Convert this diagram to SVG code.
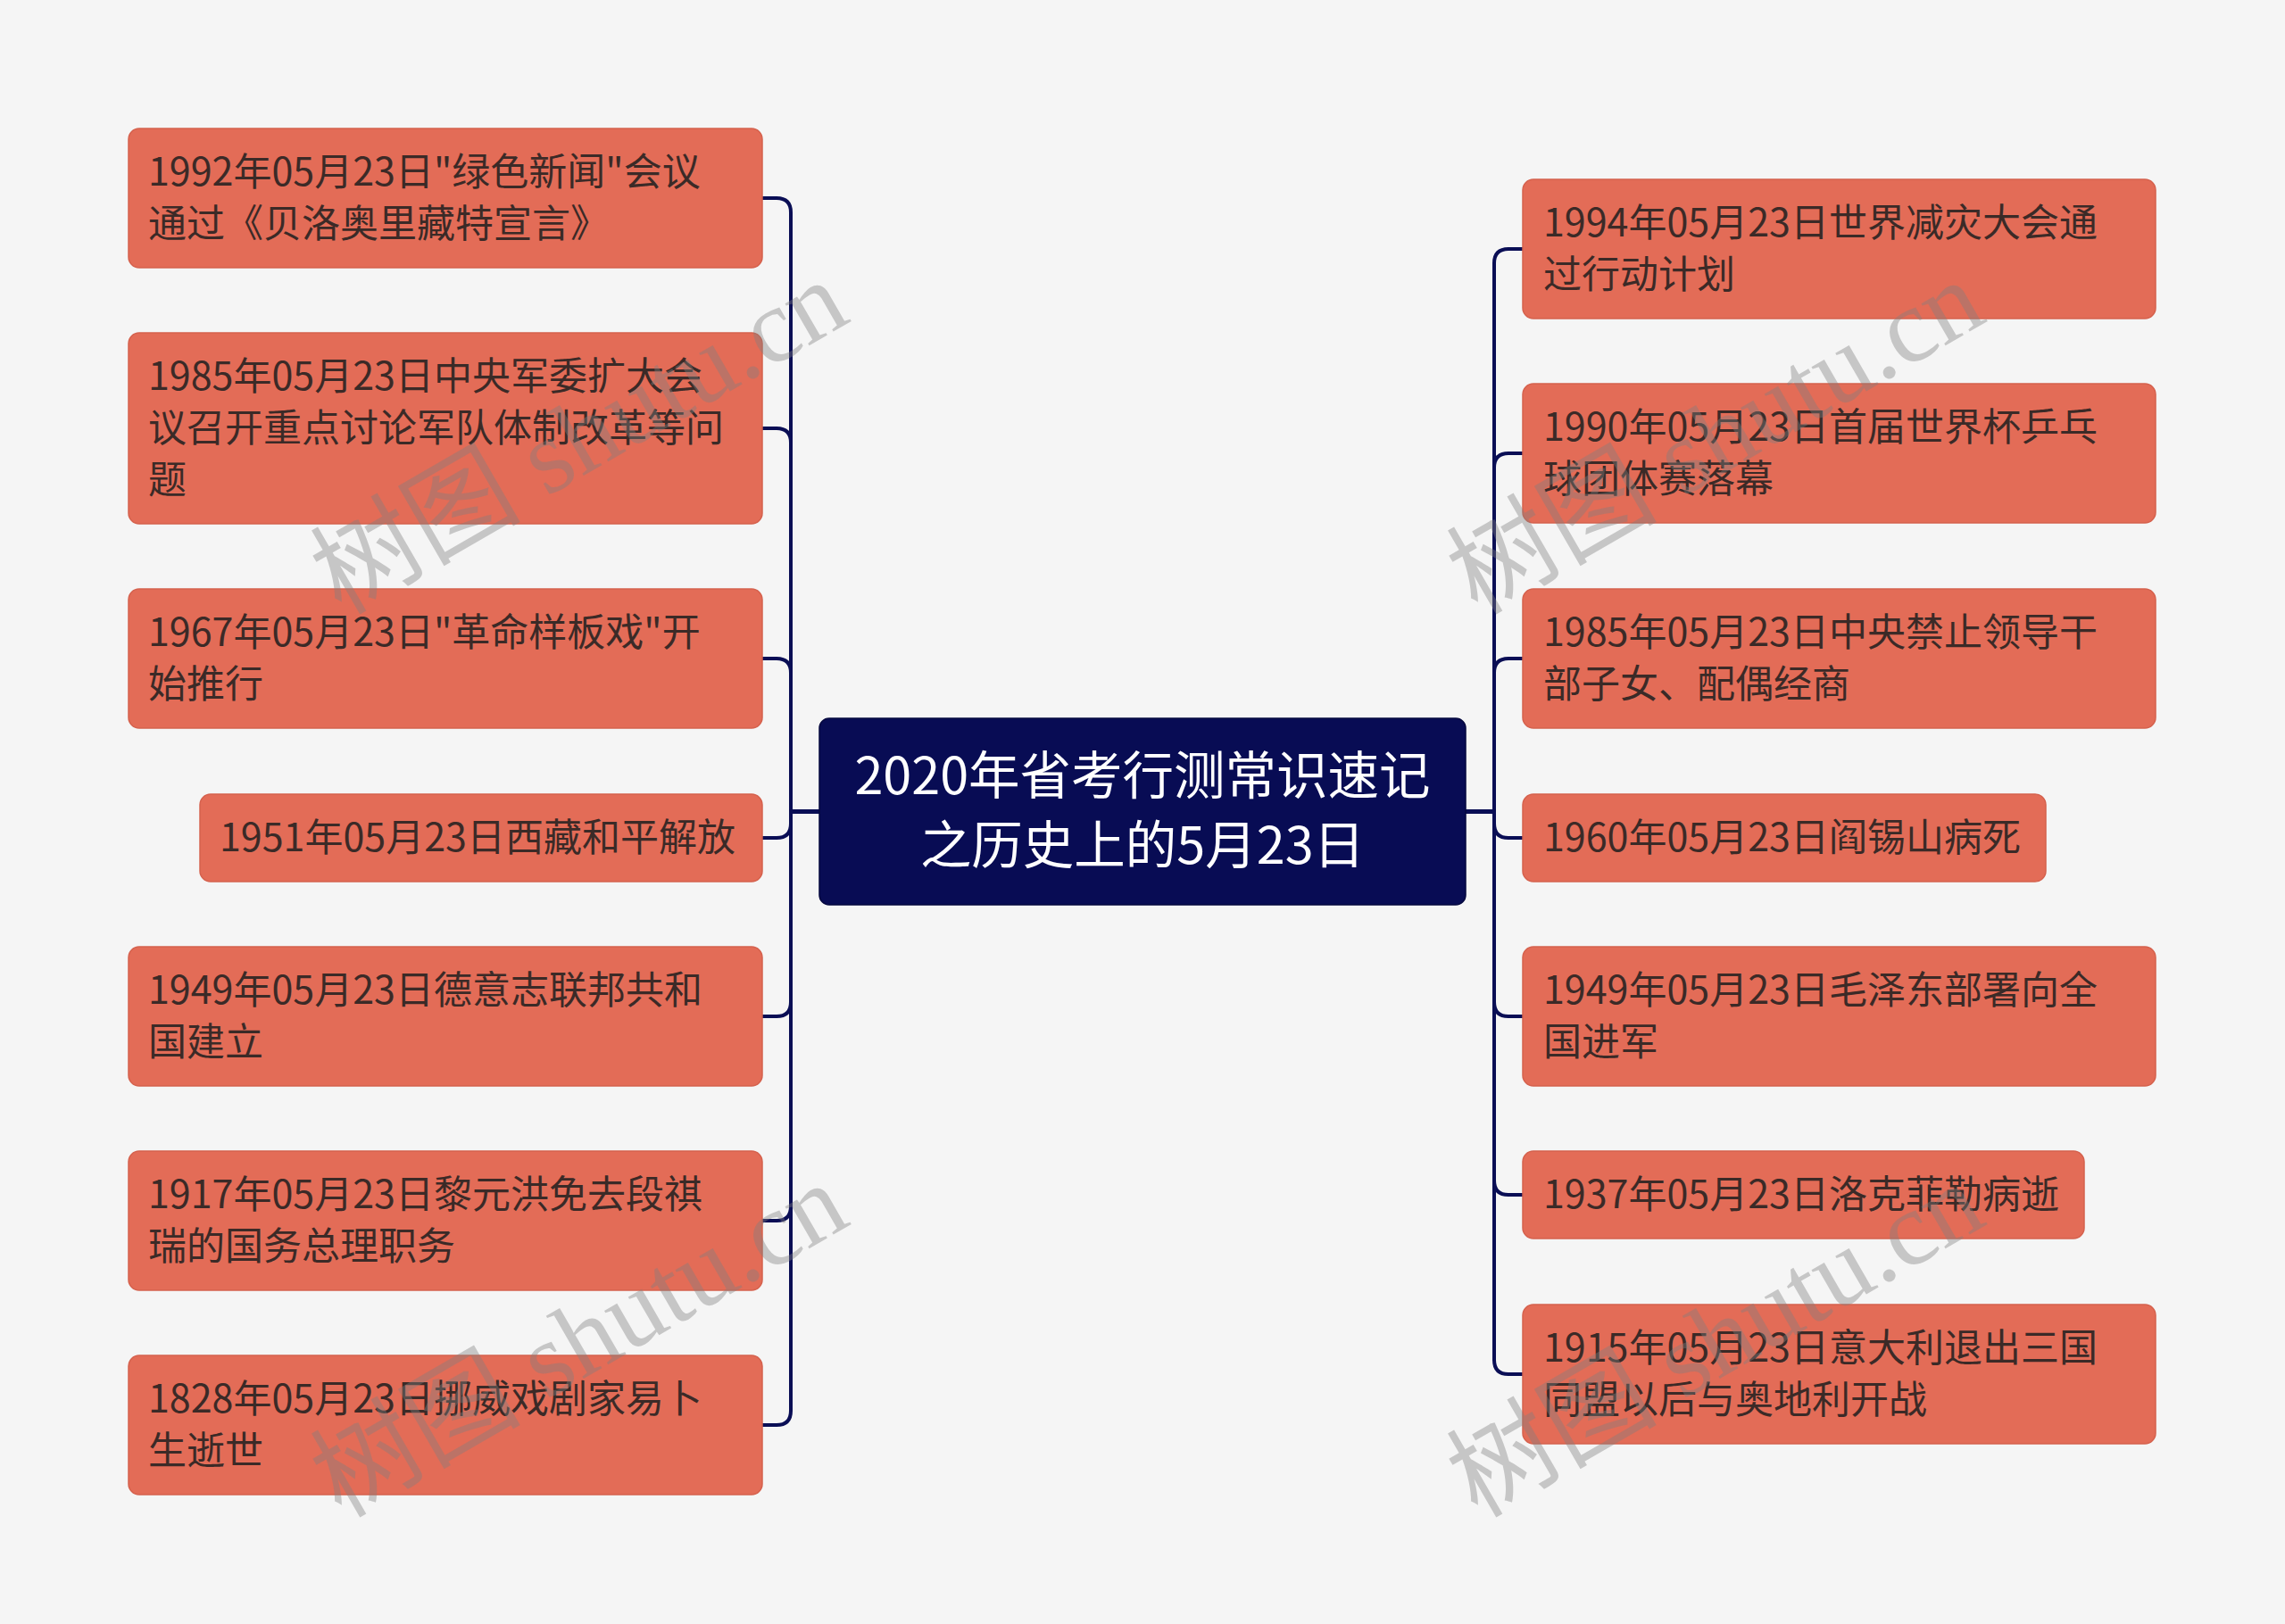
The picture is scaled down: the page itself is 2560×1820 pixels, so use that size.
<svg xmlns="http://www.w3.org/2000/svg" width="2560" height="1820" viewBox="0 0 2560 1820">
<style>
.bg{fill:#f5f5f5}
.node rect{fill:#e36c57;stroke:#d5614d;stroke-width:1.5}
.node text{font-family:"Noto Sans CJK SC","Noto Sans",sans-serif;font-size:43px;fill:#3b2a27}
.root rect{fill:#080c54;stroke:#05083f;stroke-width:1.5}
.root text{font-family:"Noto Sans CJK SC","Noto Sans",sans-serif;font-size:57.5px;fill:#ffffff;text-anchor:middle}
.conn path{fill:none;stroke:#0a0e55;stroke-width:4;stroke-linejoin:round}
.wm{font-family:"Liberation Serif","Noto Sans CJK SC",serif;font-size:118px;fill:#808080;fill-opacity:0.4}
</style>
<rect class="bg" x="0" y="0" width="2560" height="1820"/>
<g id="connectors" class="conn">
<path d="M918 909.5 H886 V238 Q886 222 870 222 H854"/>
<path d="M918 909.5 H886 V496 Q886 480 870 480 H854"/>
<path d="M918 909.5 H886 V754 Q886 738 870 738 H854"/>
<path d="M918 909.5 H886 V923 Q886 939 870 939 H854"/>
<path d="M918 909.5 H886 V1123 Q886 1139 870 1139 H854"/>
<path d="M918 909.5 H886 V1352 Q886 1368 870 1368 H854"/>
<path d="M918 909.5 H886 V1581 Q886 1597 870 1597 H854"/>
<path d="M1642 909.5 H1674 V295 Q1674 279 1690 279 H1706"/>
<path d="M1642 909.5 H1674 V524 Q1674 508 1690 508 H1706"/>
<path d="M1642 909.5 H1674 V754 Q1674 738 1690 738 H1706"/>
<path d="M1642 909.5 H1674 V923 Q1674 939 1690 939 H1706"/>
<path d="M1642 909.5 H1674 V1123 Q1674 1139 1690 1139 H1706"/>
<path d="M1642 909.5 H1674 V1323 Q1674 1339 1690 1339 H1706"/>
<path d="M1642 909.5 H1674 V1524 Q1674 1540 1690 1540 H1706"/>
</g>
<g id="root" class="root">
<rect x="918" y="805" width="724" height="209" rx="11"/>
<text x="1280" y="890">2020年省考行测常识速记</text>
<text x="1280" y="968">之历史上的5月23日</text>
</g>
<g id="L1" class="node"><rect x="144" y="144" width="710" height="156" rx="12"/><text x="166" y="208">1992年05月23日"绿色新闻"会议</text><text x="166" y="266">通过《贝洛奥里藏特宣言》</text></g>
<g id="L2" class="node"><rect x="144" y="373" width="710" height="214" rx="12"/><text x="166" y="437">1985年05月23日中央军委扩大会</text><text x="166" y="495">议召开重点讨论军队体制改革等问</text><text x="166" y="553">题</text></g>
<g id="L3" class="node"><rect x="144" y="660" width="710" height="156" rx="12"/><text x="166" y="724">1967年05月23日"革命样板戏"开</text><text x="166" y="782">始推行</text></g>
<g id="L4" class="node"><rect x="224" y="890" width="630" height="98" rx="12"/><text x="246" y="954">1951年05月23日西藏和平解放</text></g>
<g id="L5" class="node"><rect x="144" y="1061" width="710" height="156" rx="12"/><text x="166" y="1125">1949年05月23日德意志联邦共和</text><text x="166" y="1183">国建立</text></g>
<g id="L6" class="node"><rect x="144" y="1290" width="710" height="156" rx="12"/><text x="166" y="1354">1917年05月23日黎元洪免去段祺</text><text x="166" y="1412">瑞的国务总理职务</text></g>
<g id="L7" class="node"><rect x="144" y="1519" width="710" height="156" rx="12"/><text x="166" y="1583">1828年05月23日挪威戏剧家易卜</text><text x="166" y="1641">生逝世</text></g>
<g id="R1" class="node"><rect x="1706" y="201" width="709" height="156" rx="12"/><text x="1729" y="265">1994年05月23日世界减灾大会通</text><text x="1729" y="323">过行动计划</text></g>
<g id="R2" class="node"><rect x="1706" y="430" width="709" height="156" rx="12"/><text x="1729" y="494">1990年05月23日首届世界杯乒乓</text><text x="1729" y="552">球团体赛落幕</text></g>
<g id="R3" class="node"><rect x="1706" y="660" width="709" height="156" rx="12"/><text x="1729" y="724">1985年05月23日中央禁止领导干</text><text x="1729" y="782">部子女、配偶经商</text></g>
<g id="R4" class="node"><rect x="1706" y="890" width="586" height="98" rx="12"/><text x="1729" y="954">1960年05月23日阎锡山病死</text></g>
<g id="R5" class="node"><rect x="1706" y="1061" width="709" height="156" rx="12"/><text x="1729" y="1125">1949年05月23日毛泽东部署向全</text><text x="1729" y="1183">国进军</text></g>
<g id="R6" class="node"><rect x="1706" y="1290" width="629" height="98" rx="12"/><text x="1729" y="1354">1937年05月23日洛克菲勒病逝</text></g>
<g id="R7" class="node"><rect x="1706" y="1462" width="709" height="156" rx="12"/><text x="1729" y="1526">1915年05月23日意大利退出三国</text><text x="1729" y="1584">同盟以后与奥地利开战</text></g>
<g id="watermarks">
<text class="wm" transform="translate(382 690) rotate(-30)">树图 shutu.cn</text>
<text class="wm" transform="translate(382 1702) rotate(-30)">树图 shutu.cn</text>
<text class="wm" transform="translate(1655 690) rotate(-30)">树图 shutu.cn</text>
<text class="wm" transform="translate(1655 1702) rotate(-30)">树图 shutu.cn</text>
</g>
</svg>
